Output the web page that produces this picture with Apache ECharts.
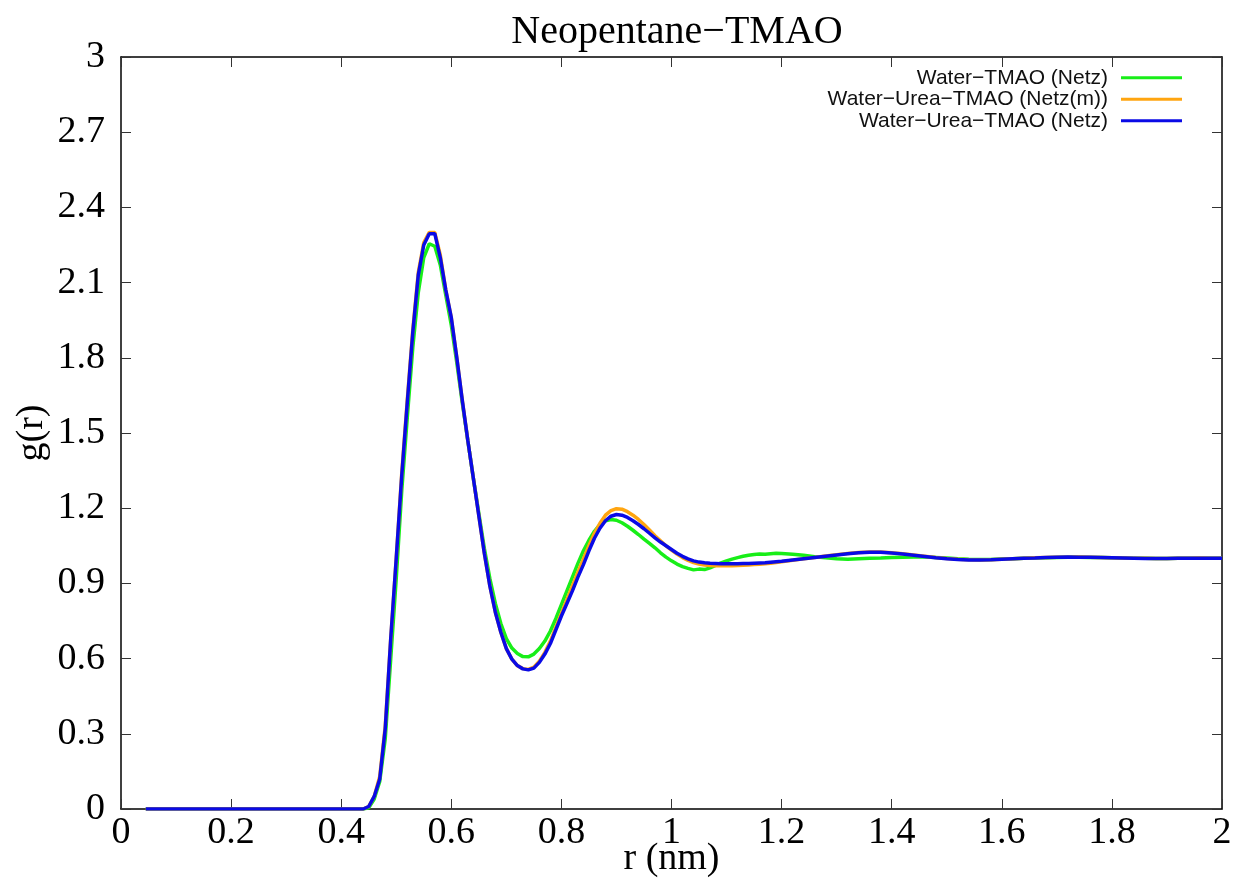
<!DOCTYPE html>
<html>
<head>
<meta charset="utf-8">
<script src="https://cdn.jsdelivr.net/npm/echarts@6/dist/echarts.min.js"></script>
<style>
html,body{margin:0;padding:0;background:#fff;}
#chart{width:1244px;height:881px;}
</style>
</head>
<body>
<div id="chart"></div>
<script>
const titleText = 'Neopentane\u2212TMAO';
const xName = 'r (nm)';
const yName = 'g(r)';
const seriesNames = ['Water\u2212TMAO (Netz)', 'Water\u2212Urea\u2212TMAO (Netz(m))', 'Water\u2212Urea\u2212TMAO (Netz)'];
const seriesColors = ['#18ee18', '#ffa510', '#0a0ae6'];

const r = [
  0.045, 0.1, 0.2, 0.3, 0.4, 0.43,
  0.44, 0.45, 0.46, 0.47, 0.48, 0.49, 0.50, 0.51, 0.52, 0.53, 0.54, 0.55, 0.56, 0.57, 0.58, 0.59,
  0.60, 0.61, 0.62, 0.63, 0.64, 0.65, 0.66, 0.67, 0.68, 0.69, 0.70, 0.71, 0.72, 0.73, 0.74, 0.75, 0.76, 0.77, 0.78, 0.79,
  0.80, 0.81, 0.82, 0.83, 0.84, 0.85, 0.86, 0.87, 0.88, 0.89, 0.90, 0.91, 0.92, 0.93, 0.94, 0.95, 0.96, 0.97, 0.98, 0.99,
  1.00, 1.01, 1.02, 1.03, 1.04, 1.05, 1.06, 1.07, 1.08, 1.09, 1.10, 1.11, 1.12, 1.13, 1.14, 1.15, 1.16, 1.17, 1.18, 1.19, 1.20,
  1.22, 1.24, 1.26, 1.28, 1.30, 1.32, 1.34, 1.36, 1.38, 1.40, 1.42, 1.44, 1.46, 1.48, 1.50, 1.52, 1.54, 1.56, 1.58, 1.60,
  1.62, 1.64, 1.66, 1.68, 1.70, 1.72, 1.74, 1.76, 1.78, 1.80, 1.82, 1.84, 1.86, 1.88, 1.90, 1.92, 1.94, 1.96, 1.98, 2.00
];

const gWaterTMAO = [
  0, 0, 0, 0, 0, 0,
  0, 0.005, 0.04, 0.11, 0.28, 0.60, 0.92, 1.27, 1.56, 1.84, 2.06, 2.20, 2.255, 2.245, 2.17, 2.05,
  1.93, 1.78, 1.62, 1.47, 1.32, 1.18, 1.04, 0.92, 0.82, 0.74, 0.68, 0.642, 0.62, 0.608, 0.607, 0.618, 0.64, 0.67, 0.71, 0.76,
  0.815, 0.87, 0.925, 0.98, 1.03, 1.072, 1.108, 1.135, 1.15, 1.155, 1.152, 1.142, 1.128, 1.112, 1.095, 1.077, 1.06, 1.042, 1.022, 1.005,
  0.99, 0.977, 0.967, 0.96, 0.954, 0.957, 0.955, 0.962, 0.972, 0.982, 0.99, 0.997, 1.003, 1.008, 1.012, 1.015, 1.017, 1.016, 1.018, 1.02, 1.019,
  1.016, 1.012, 1.006, 1.002, 0.998, 0.996, 0.998, 1.0, 1.001, 1.003, 1.004, 1.005, 1.005, 1.003, 1.001, 0.998, 0.996, 0.995, 0.995, 0.997,
  0.998, 1.0, 1.001, 1.002, 1.003, 1.004, 1.004, 1.003, 1.003, 1.002, 1.001, 1.0, 1.0, 0.999, 0.999, 1.0, 1.0, 1.0, 1.0, 1.0
];

const gUreaNetzM = [
  0, 0, 0, 0, 0, 0,
  0, 0.01, 0.05, 0.13, 0.33, 0.68, 1.00, 1.34, 1.63, 1.91, 2.14, 2.26, 2.30, 2.30, 2.21, 2.07,
  1.96, 1.80, 1.63, 1.47, 1.32, 1.17, 1.02, 0.89, 0.785, 0.705, 0.64, 0.598, 0.572, 0.56, 0.557, 0.566, 0.59, 0.625, 0.67, 0.725,
  0.78, 0.835, 0.89, 0.945, 0.998, 1.05, 1.10, 1.14, 1.172, 1.19, 1.198, 1.196, 1.186, 1.172, 1.155, 1.135, 1.113, 1.09, 1.07, 1.05,
  1.033, 1.017, 1.003, 0.992, 0.983, 0.977, 0.973, 0.971, 0.97, 0.97, 0.97, 0.97, 0.971, 0.972, 0.973, 0.975, 0.976, 0.978, 0.98, 0.983, 0.986,
  0.992, 0.998, 1.003, 1.009, 1.014, 1.019, 1.023, 1.025, 1.025, 1.022, 1.018, 1.013, 1.008, 1.003, 0.999, 0.996, 0.994, 0.993, 0.994, 0.996,
  0.998, 1.0, 1.002, 1.003, 1.004, 1.004, 1.005, 1.004, 1.003, 1.002, 1.001, 1.0, 1.0, 0.999, 0.999, 1.0, 1.0, 1.001, 1.0, 1.0
];

const gUreaNetz = [
  0, 0, 0, 0, 0, 0,
  0, 0.01, 0.05, 0.12, 0.32, 0.68, 1.00, 1.33, 1.62, 1.90, 2.13, 2.25, 2.295, 2.295, 2.20, 2.07,
  1.96, 1.80, 1.63, 1.47, 1.32, 1.17, 1.02, 0.89, 0.785, 0.705, 0.64, 0.598, 0.572, 0.559, 0.555, 0.562, 0.585, 0.618, 0.66, 0.715,
  0.77, 0.82, 0.87, 0.925, 0.975, 1.03, 1.08, 1.12, 1.15, 1.168, 1.175, 1.172, 1.163, 1.15, 1.135, 1.118, 1.10, 1.082, 1.065, 1.05,
  1.035, 1.02, 1.008, 0.998, 0.99, 0.985, 0.982, 0.98, 0.979, 0.978, 0.978, 0.978, 0.978, 0.979, 0.979, 0.98, 0.981, 0.982, 0.984, 0.986, 0.988,
  0.993, 0.998, 1.003, 1.008, 1.013, 1.018, 1.022, 1.024, 1.024, 1.021, 1.017, 1.012, 1.007, 1.002, 0.998, 0.995, 0.993, 0.993, 0.994, 0.996,
  0.998, 1.0, 1.001, 1.003, 1.004, 1.005, 1.004, 1.004, 1.003, 1.002, 1.001, 1.0, 0.999, 0.999, 0.999, 1.0, 1.0, 1.0, 1.0, 1.0
];

const seriesValues = [gWaterTMAO, gUreaNetzM, gUreaNetz];

const serif = '"Liberation Serif", "DejaVu Serif", serif';
const sans = '"Liberation Sans", Arial, sans-serif';

const chart = echarts.init(document.getElementById('chart'), null, {renderer: 'canvas'});

const commonX = {
  type: 'value', min: 0, max: 2, interval: 0.2,
  splitLine: {show: false},
  axisLine: {show: true, onZero: false, lineStyle: {color: '#000', width: 1.5}},
  axisTick: {show: true, inside: true, length: 10, lineStyle: {color: '#333', width: 1}}
};
const commonY = {
  type: 'value', min: 0, max: 3, interval: 0.3,
  splitLine: {show: false},
  axisLine: {show: true, onZero: false, lineStyle: {color: '#000', width: 1.5}},
  axisTick: {show: true, inside: true, length: 10, lineStyle: {color: '#333', width: 1}}
};

const option = {
  backgroundColor: '#fff',
  animation: false,
  title: {
    text: titleText, left: 672, textAlign: 'center', top: 7,
    textStyle: {fontFamily: serif, fontSize: 40, fontWeight: 'normal', color: '#000'}
  },
  grid: {left: 121, right: 22, top: 57, bottom: 72, containLabel: false, outerBoundsMode: 'none'},
  legend: {
    orient: 'vertical', right: 57, top: 62, align: 'right',
    icon: 'rect', itemWidth: 61, itemHeight: 3, itemGap: 0,
    textStyle: {fontFamily: sans, fontSize: 21, color: '#111', lineHeight: 21.5, padding: [0, 8, 0, 0]},
    data: seriesNames
  },
  xAxis: [
    Object.assign({}, commonX, {
      position: 'bottom', name: xName, nameLocation: 'middle', nameGap: 31, nameMoveOverlap: false,
      nameTextStyle: {fontFamily: serif, fontSize: 38, color: '#000'},
      axisLabel: {fontFamily: serif, fontSize: 38, color: '#000', margin: 5}
    }),
    Object.assign({}, commonX, {position: 'top', axisLabel: {show: false}})
  ],
  yAxis: [
    Object.assign({}, commonY, {
      position: 'left', name: yName, nameLocation: 'middle', nameGap: 70, nameRotate: 90, nameMoveOverlap: false,
      nameTextStyle: {fontFamily: serif, fontSize: 38, color: '#000'},
      axisLabel: {fontFamily: serif, fontSize: 38, color: '#000', margin: 16}
    }),
    Object.assign({}, commonY, {position: 'right', axisLabel: {show: false}})
  ],
  series: seriesNames.map((name, k) => ({
    name: name,
    type: 'line',
    xAxisIndex: 0, yAxisIndex: 0,
    showSymbol: false,
    symbol: 'none',
    smooth: false,
    lineStyle: {color: seriesColors[k], width: 3.5},
    itemStyle: {color: seriesColors[k]},
    z: 2 + k,
    data: r.map((x, i) => [x, seriesValues[k][i]])
  }))
};
chart.setOption(option);
</script>
</body>
</html>
